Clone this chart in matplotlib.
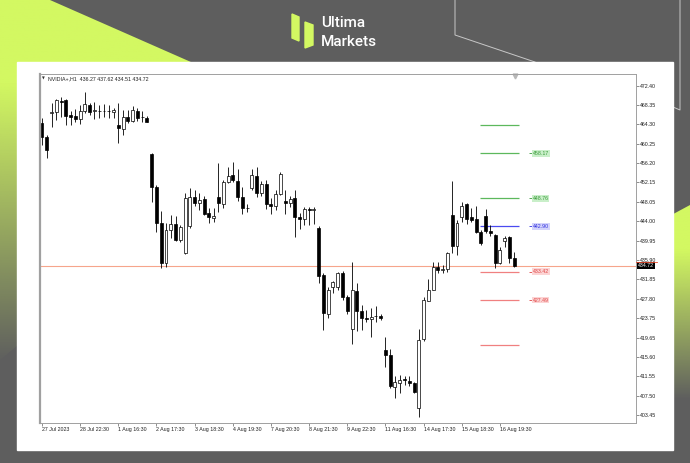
import matplotlib.pyplot as plt
from matplotlib.patches import Rectangle, Polygon
from matplotlib.transforms import blended_transform_factory
import numpy as np

# NVIDIA+ H1 candles
opens = [464.5, 461.7, 466.6, 466.9, 469.2, 469.4, 466.2, 466.0, 465.3, 467.1,
         468.4, 467.0, 467.1, 467.0, 467.1, 466.8, 464.1, 463.4, 465.9, 465.0,
         467.1, 465.9, 465.7, 458.1, 451.2, 443.6, 435.2, 442.2, 443.4, 440.1,
         437.4, 442.9, 449.1, 447.9, 448.6, 445.8, 444.6, 449.0, 447.7, 452.1,
         453.7, 452.4, 449.1, 446.8, 450.9, 453.5, 449.8, 451.8, 447.7, 447.1,
         449.7, 448.3, 447.9, 448.8, 444.8, 444.4, 446.5, 446.4, 442.5, 432.7,
         424.6, 430.2, 430.3, 433.1, 428.1, 421.4, 429.4, 425.1, 423.7, 423.5,
         424.2, 424.2, 417.0, 416.0, 409.2, 410.2, 410.9, 410.5, 410.1, 404.8,
         419.3, 427.4, 429.7, 434.5, 433.8, 433.9, 445.3, 438.8, 444.8, 447.5,
         444.8, 444.5, 441.8, 445.0, 441.9, 441.1, 435.2, 439.9, 440.6, 436.27]
highs = [465.6, 462.0, 468.8, 469.6, 469.9, 469.6, 467.0, 467.5, 468.3, 471.1,
         468.8, 469.0, 468.3, 468.5, 468.3, 467.6, 468.8, 467.3, 467.3, 468.2,
         467.6, 467.0, 466.0, 458.3, 451.6, 446.1, 443.6, 445.3, 445.0, 443.2,
         450.0, 450.9, 450.5, 449.9, 449.2, 446.8, 446.8, 456.2, 452.6, 455.4,
         456.4, 454.9, 451.2, 447.5, 454.9, 455.3, 452.5, 452.6, 448.8, 450.5,
         454.3, 450.5, 449.2, 450.5, 445.8, 446.9, 446.9, 447.0, 443.0, 433.1,
         430.3, 431.5, 433.3, 433.6, 428.6, 435.5, 431.1, 426.5, 425.4, 425.8,
         426.2, 424.6, 419.8, 417.2, 411.6, 411.8, 411.6, 411.6, 410.4, 421.4,
         428.2, 431.8, 435.5, 435.5, 434.8, 437.6, 452.5, 444.3, 448.1, 447.8,
         446.7, 447.1, 442.1, 446.5, 443.2, 441.3, 438.7, 440.9, 441.0, 437.62]
lows = [460.0, 457.3, 463.8, 465.2, 465.9, 464.1, 464.1, 464.8, 464.3, 466.6,
        466.3, 465.4, 465.5, 465.9, 465.5, 465.5, 460.3, 462.1, 464.5, 464.8,
        464.9, 464.8, 464.7, 448.1, 441.8, 434.1, 434.5, 440.4, 439.8, 439.6,
        437.2, 442.5, 447.2, 446.4, 445.3, 443.7, 443.9, 446.0, 446.7, 451.9,
        452.2, 448.2, 445.6, 446.0, 450.5, 449.1, 449.3, 446.6, 445.6, 446.3,
        449.5, 445.6, 447.0, 440.6, 442.3, 443.1, 443.1, 443.5, 431.0, 421.2,
        423.7, 428.9, 429.6, 427.6, 424.6, 418.4, 421.1, 421.2, 423.0, 419.7,
        423.0, 423.4, 413.5, 409.0, 406.9, 408.0, 409.8, 409.4, 408.0, 403.0,
        419.0, 427.2, 429.6, 433.1, 433.1, 433.4, 437.3, 436.9, 443.9, 443.5,
        443.9, 441.5, 439.0, 441.6, 440.8, 434.1, 435.1, 438.6, 435.2, 434.51]
closes = [461.7, 458.9, 466.8, 469.4, 469.0, 466.0, 465.9, 465.3, 467.1, 468.5,
          466.9, 467.2, 467.0, 467.1, 467.0, 467.3, 463.5, 465.9, 465.0, 467.3,
          465.7, 465.8, 464.8, 451.2, 443.7, 435.2, 442.2, 443.4, 440.1, 442.8,
          448.9, 449.1, 447.9, 448.5, 445.6, 444.9, 445.1, 447.9, 452.1, 453.5,
          452.6, 449.1, 446.7, 446.7, 453.7, 449.8, 451.8, 447.7, 447.1, 449.7,
          453.9, 447.9, 448.7, 444.8, 444.4, 446.5, 446.4, 446.5, 432.5, 424.7,
          429.6, 431.2, 433.1, 428.1, 425.3, 429.5, 425.3, 423.7, 423.6, 424.0,
          424.1, 423.8, 416.0, 409.4, 410.4, 410.8, 410.7, 410.1, 408.3, 419.2,
          427.5, 429.7, 434.5, 433.8, 433.9, 437.3, 438.9, 443.6, 447.2, 444.5,
          444.2, 441.8, 439.4, 441.9, 441.5, 435.2, 438.0, 440.5, 436.3, 434.72]

time_labels = ['27 Jul 2023', '28 Jul 22:30', '1 Aug 16:30', '2 Aug 17:30',
               '3 Aug 18:30', '4 Aug 19:30', '7 Aug 20:30', '8 Aug 21:30',
               '9 Aug 22:30', '11 Aug 16:30', '14 Aug 17:30', '15 Aug 18:30',
               '16 Aug 19:30']
price_ticks = ['472.40', '468.35', '464.30', '460.25', '456.20', '452.15',
               '448.05', '444.00', '439.95', '435.90', '431.85', '427.80',
               '423.75', '419.65', '415.60', '411.55', '407.50', '403.45']

green_levels = [464.15, 458.17, 448.76]
blue_levels = [442.90]
red_levels = [433.42, 427.49, 418.10]
labelled = ['458.17', '448.76', '442.90', '433.42', '427.49']
last_price = 434.72
header = 'NVIDIA+,H1  436.27 437.62 434.51 434.72'

LIME = '#d3f862'
GREY = '#5e5e5e'
FONT = 'Liberation Sans'

#-------------------------------------------------------------------------------
# page background, pixel coordinates
fig = plt.figure(figsize=(6.9, 4.63), dpi=100)
bg = fig.add_axes([0, 0, 1, 1])
bg.set_xlim(0, 690)
bg.set_ylim(463, 0)
bg.axis('off')
bg.add_patch(Rectangle((0, 0), 690, 463, color=GREY, zorder=0))

# lime corner shapes, fading into grey towards the bottom
def lime_shape(pts, y0, y1):
    poly = Polygon(pts, closed=True, fc='none', ec='none')
    bg.add_patch(poly)
    grad = np.zeros((200, 2, 4))
    rgb = np.array([0xd3, 0xf8, 0x62]) / 255
    grad[:, :, :3] = rgb
    grad[:, :, 3] = np.clip(np.linspace(1.3, -0.2, 200), 0, 1)[:, None]
    im = bg.imshow(grad, extent=(0, 690, y1, y0), aspect='auto', zorder=1)
    im.set_clip_path(poly)

lime_shape([(0, 0), (50, 0), (300, 110), (0, 360)], 0, 420)
lime_shape([(690, 205), (560, 275), (690, 463)], 205, 430)

bg.plot([455, 455, 535], [0, 35, 62], color='#c8c8c8', lw=0.7, zorder=2)
bg.plot([680, 680, 673], [0, 110, 107], color='#c8c8c8', lw=0.7, zorder=2)

# white card
bg.add_patch(Rectangle((17, 62), 656, 388, color='white', zorder=3))

# logo
bg.add_patch(Polygon([(292, 14), (299, 17), (299, 41), (292, 38)], color=LIME, zorder=3))
bg.add_patch(Polygon([(305, 22), (313, 25), (313, 45), (305, 48)], color=LIME, zorder=3))
bg.text(321, 23, 'Ultima', color='white', fontsize=11, family='Roboto',
        fontweight='medium', va='center', ha='left', zorder=3)
bg.text(321, 41.5, 'Markets', color='white', fontsize=11, family='Roboto',
        fontweight='medium', va='center', ha='left', zorder=3)

#-------------------------------------------------------------------------------
# candle chart
ax = fig.add_axes([40 / 690, (463 - 423) / 463, 596 / 690, 349 / 463])
ax.set_xlim(-0.42, 124.53)
ax.set_ylim(401.76, 474.81)
for s in ax.spines.values():
    s.set_color('#a0a0a0')
    s.set_linewidth(0.7)
ax.spines['left'].set_linewidth(1.6)

idx = np.arange(len(opens))
o = np.array(opens)
c = np.array(closes)
ax.vlines(idx, lows, highs, color='black', lw=0.6, zorder=2)
bottoms = np.minimum(o, c)
heights = np.maximum(np.abs(c - o), 0.1)
face = ['white' if cc >= oo else 'black' for oo, cc in zip(o, c)]
ax.bar(idx, heights, bottom=bottoms, width=0.62, color=face,
       edgecolor='black', linewidth=0.5, zorder=3)

# last price line
ax.axhline(last_price, color='#f6a58c', lw=0.8, zorder=1)

# analysis levels
for lv in green_levels:
    ax.hlines(lv, 91.8, 100, color='#5cb85c', lw=0.9, zorder=1)
for lv in blue_levels:
    ax.hlines(lv, 91.8, 100, color='#4a4af0', lw=0.9, zorder=1)
for lv in red_levels:
    ax.hlines(lv, 91.8, 100, color='#f08080', lw=0.9, zorder=1)

for lab in labelled:
    v = float(lab)
    if v in green_levels:
        tc, fc = '#3a9a3a', '#c9efc9'
    elif v in blue_levels:
        tc, fc = '#3030e0', '#d4d4fb'
    else:
        tc, fc = '#e04848', '#fcd4d4'
    ax.hlines(v, 102.0, 102.7, color=tc, lw=0.6)
    ax.text(102.85, v, lab, fontsize=3.8, family=FONT, color=tc, va='center',
            ha='left', bbox=dict(boxstyle='square,pad=0.15', fc=fc, ec='none'))

# axes ticks
ax.yaxis.tick_right()
ax.set_yticks([float(t) for t in price_ticks])
ax.set_yticklabels(price_ticks)
ax.set_xticks(np.arange(0, 8 * len(time_labels), 8))
ax.set_xticklabels(time_labels, ha='left')
ax.tick_params(axis='both', length=2, width=0.5, color='#606060', pad=1,
               labelsize=3.8, labelcolor='#202020')
for t in ax.get_xticklabels() + ax.get_yticklabels():
    t.set_family(FONT)

trans = blended_transform_factory(ax.transAxes, ax.transData)
ax.text(1.003, last_price, '434.72', transform=trans, fontsize=3.8, family=FONT,
        color='white', va='center', ha='left', zorder=5,
        bbox=dict(boxstyle='square,pad=0.2', fc='black', ec='none'))
ax.plot([1.0, 1.035], [last_price + 0.75] * 2, transform=trans, color='#e84a2a',
        lw=0.6, clip_on=False, zorder=6)

# header and shift marker
ax.text(0.004, 0.986, '\u25bc', transform=ax.transAxes, fontsize=2.6,
        color='#303030', va='center', ha='left')
ax.text(0.0135, 0.986, header, transform=ax.transAxes, fontsize=3.8,
        family=FONT, color='#202020', va='center', ha='left')
ax.plot([99.2], [474.4], marker='v', color='#b8b8b8', ms=3.5, clip_on=False)

fig.savefig('out.png', dpi=100)
